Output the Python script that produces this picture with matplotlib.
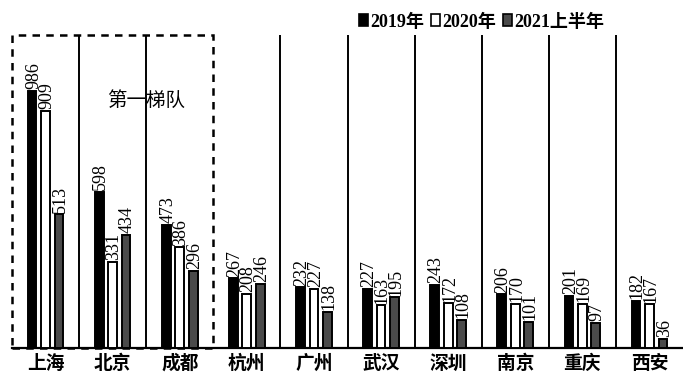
import matplotlib
matplotlib.use("Agg")
import matplotlib.pyplot as plt
from matplotlib.patches import Patch, Rectangle

plt.rcParams['font.family'] = ['Noto Sans CJK SC', 'DejaVu Sans']

cities = ['上海', '北京', '成都', '杭州', '广州', '武汉', '深圳', '南京', '重庆', '西安']
v2019 = [986, 598, 473, 267, 232, 227, 243, 206, 201, 182]
v2020 = [909, 331, 386, 208, 227, 163, 172, 170, 169, 167]
v2021h1 = [513, 434, 296, 246, 138, 195, 108, 101, 97, 36]
series_names = ['2019年', '2020年', '2021上半年']

fig = plt.figure(figsize=(6.83, 3.80), dpi=100)
ax = fig.add_axes([12 / 683, 32 / 380, 671 / 683, 313 / 380])

x = range(len(cities))
offsets = [-0.2, 0.0, 0.2]
width = 0.13
styles = [dict(color='black', edgecolor='black'),
          dict(color='white', edgecolor='black'),
          dict(color='#4a4a4a', edgecolor='black')]

for vals, off, st in zip([v2019, v2020, v2021h1], offsets, styles):
    pos = [i + off for i in x]
    ax.bar(pos, vals, width=width, linewidth=1.4, zorder=3, **st)
    for p, v in zip(pos, vals):
        ax.text(p + 0.02, v + 6, str(v), rotation=90, ha='center', va='bottom',
                fontsize=13, family='Liberation Serif', zorder=4)

ax.set_xlim(-0.5, len(cities) - 0.5)
ax.set_ylim(0, 1200)

# group separators
for i in range(len(cities) - 1):
    if i == 2:
        continue
    ax.axvline(i + 0.5, color='black', linewidth=1.4, zorder=2)

# dashed frame around the first tier
ax.add_patch(Rectangle((-0.5, 0), 3, 1200, fill=False, linestyle=(0, (3, 2.5)),
                       linewidth=1.8, edgecolor='black', clip_on=False, zorder=2))
ax.text(1.5, 950, '第一梯队', ha='center', va='center', fontsize=14)

ax.set_xticks(list(x))
ax.set_xticklabels(cities, fontsize=13.5, fontweight='bold')
ax.tick_params(axis='x', length=0, pad=4)
ax.set_yticks([])
for side in ['top', 'left', 'right']:
    ax.spines[side].set_visible(False)
ax.spines['bottom'].set_linewidth(1.6)

handles = [Patch(facecolor=st['color'], edgecolor='black', linewidth=1.2) for st in styles]
fig.legend(handles, series_names, loc='center', bbox_to_anchor=(0.705, 0.942), ncol=3,
           frameon=False, handlelength=0.5, handleheight=0.65, handletextpad=0.1,
           columnspacing=0.4,
           prop={'size': 13, 'weight': 'bold', 'family': ['Liberation Serif', 'Noto Sans CJK SC']})

fig.savefig('out.png', dpi=100, facecolor='white')
